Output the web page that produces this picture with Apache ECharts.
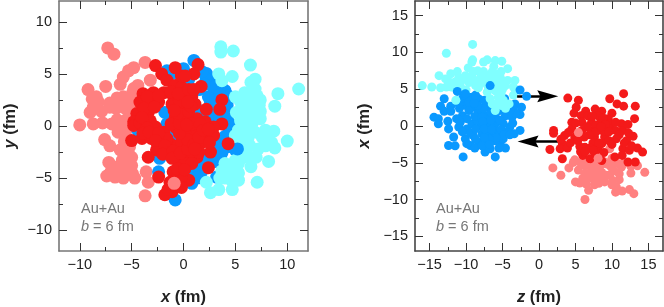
<!DOCTYPE html>
<html><head><meta charset="utf-8">
<style>html,body{margin:0;padding:0;background:#fff}#c{width:664px;height:307px}</style>
<script src="https://cdn.jsdelivr.net/npm/echarts@6/dist/echarts.min.js"></script>
</head><body><div id="c"></div>
<script>
var leftPink=[[-7.3,7.5],[-6.7,6.9],[-9.2,3.5],[-7.5,3.8],[-3.7,6.1],[-4.8,5.6],[-5.3,5.3],[-5.8,4.7],[-6.1,4.0],[-4.4,3.9],[-3.2,4.4],[-8.8,2.6],[-8.2,2.3],[-9.0,1.3],[-7.9,1.4],[-7.1,2.2],[-6.4,2.7],[-5.8,2.8],[-5.1,2.4],[-4.9,3.2],[-10.0,0.1],[-8.7,0.2],[-7.8,0.3],[-6.4,0.6],[-5.6,1.7],[-6.1,2.0],[-7.1,1.8],[-6.9,0.2],[-6.3,-0.6],[-5.6,-0.9],[-7.6,-1.3],[-7.1,-1.9],[-6.1,-2.3],[-5.3,-2.7],[-7.2,-3.5],[-5.0,-3.0],[-5.9,-3.3],[-5.5,-3.6],[-6.3,-3.9],[-5.6,-4.4],[-7.4,-4.8],[-6.6,-4.9],[-5.8,-5],[-4.7,-5],[-5.1,-4.3],[-6.6,-4.3],[-3.6,-4.4],[-3.4,-5.4],[-3.7,-6.7],[-5.2,1.3],[-6.5,1.7],[-5.5,2.1],[-4.8,3.6],[-4.6,1.9],[-8.7,1.8],[-8.4,2.8],[-5.5,-3],[-6,-3.7],[-5,-3.8],[-4.9,-4.6],[-6,-4.7],[-7,-4.4],[-5.2,-2],[-5.7,-1.5],[-5.5,0.6],[-5,0.9],[-6,0.1],[-5.5,-0.3]];
var leftPinkTop=[[-0.9,-5.5]];
var leftRed=[[-2.7,5.8],[-2.1,5.0],[-1.6,4.4],[-0.8,5.6],[-3.9,3.1],[-2.9,3.2],[-1.9,3.2],[-4.2,2.3],[-3.2,2.4],[-2.4,2.3],[-4.5,1.2],[-3.4,1.3],[-4.8,0.4],[-3.2,0.5],[-0.8,3.9],[-1,2.9],[-0.2,3.7],[-0.2,4.8],[-0.8,0.8],[-0.3,1.8],[-1.1,2.1],[-4.8,0.05],[-4.2,0.3],[-5,-1.4],[-4,-1.2],[-3.1,-1.2],[-2.3,-1.6],[-1.3,-1.7],[-2.7,-0.1],[-1.9,-0.6],[-0.8,-0.1],[-2.6,-2.3],[-3.4,-3],[-1.5,-2.3],[-0.5,-1.9],[-0.3,-3.6],[-1,-4.4],[-2.4,-4.9],[-1.3,-5.4],[-0.5,-4.7],[-1.8,-6.6],[-1.1,-6.3],[-0.3,-5.5],[0,-3],[-1.6,-1.2],[1.4,5.9],[1,5],[0.15,4.8],[1.7,3.8],[0,2.8],[0.8,2.8],[1.1,2.1],[0,1.8],[3.7,2.5],[3.5,1.6],[2.2,1.6],[1.3,0.7],[0.15,0.7],[3.7,0.2],[2.1,0.4],[2.9,-0.1],[1.1,-0.75],[2.1,-1.1],[2.9,-0.9],[1.6,-1.7],[2.6,-2.5],[4.3,-1.7],[-0.2,-1.6],[0.6,-3],[1.3,-3],[0.15,-3.6],[2.4,-4],[0.5,-5.2],[-0.2,-4.9],[0.8,-2.5],[0.15,-0.75],[0.8,0.2],[-3.5,2.8],[-2.4,2.9],[-3.8,1.7],[-2.8,1.8],[-4,0.8],[-3.5,-0.2],[-3.9,-0.7],[-3.3,-0.6],[-2.4,-0.7],[-2.7,-1.4],[-1.8,-1.9],[-2,-2.7],[-1,-2.4],[-1.1,-3.1],[-0.3,-2.6],[0.4,-2.2],[0.4,-1.3],[1,-1.8],[1.5,-1.1],[-0.4,-0.7],[-1.2,0.2],[-0.4,0.3],[0.3,0.1],[-0.5,1.2],[0.5,1.4],[0.7,1.9],[-0.4,2.5],[0.4,2.3],[-1.2,3.3],[-0.5,3.1],[0.5,3.5],[1,3.5],[-0.9,1.5],[1.5,-2.5],[0.8,-3.6],[-0.6,-4.1],[0.1,-4.2],[1.1,-2.2],[-0.2,-5.9],[-1.5,-6.1],[1.6,0.2],[1.9,-0.4],[2.4,-0.3],[2.5,-1.6]];
var leftBlue=[[1,6.3],[2.2,5.05],[2.6,4],[2.9,3.1],[4,3.4],[4.3,2.9],[4.5,1.3],[4.2,0.5],[2.6,2.2],[2.4,2.8],[4.3,-0.1],[5,-2.3],[3.3,-2.8],[3.2,-4.9],[1.3,-4.6],[0.8,-5.5],[-0.8,-7.1],[-2.4,-4.4],[-2.3,-3.1],[-0.8,-0.9],[-1.6,0.2],[-4.4,-0.4],[-1,5.3],[-1.6,5.3],[-1.8,1.3],[-1.3,0.5],[3,1],[3,0.2],[3,-1.5],[2,-3],[3.7,-3.5],[1.8,-3.8],[1.5,3.5],[2.3,0.9],[3.8,1.2],[3.3,-2],[-1,2],[0.5,1],[1.2,-1.6],[0,-0.4],[3.2,4.5],[2.2,4.5],[3,3.8],[3.5,3],[3.1,2.5],[3.8,2.1],[4.2,2],[4.3,1],[3.2,1.8],[4.6,0.1],[4.6,-0.9],[4,-1],[3.7,-1.5],[4.2,-2],[3.7,-2.6],[3.1,-3.4],[2.7,-3.4],[2.2,-3.7],[1.7,-4.5],[1.3,-5],[0.3,-4.4],[1.5,1.5],[2,-0.5],[0.5,4.5],[0,5.5],[1.8,5.2],[2,4],[-0.5,5],[-1.5,4.7]];
var leftBlueTop=[[5.2,-2.2]];
var leftCyan=[[3.6,7.6],[3.6,7.1],[4.8,7.2],[6.45,5.85],[3.4,5],[3.7,4.35],[4.7,4.75],[6.9,4.5],[6.5,4.2],[9.1,3.1],[11.1,3.55],[8.8,1.9],[6.9,3.55],[5.9,3.2],[5,2.8],[7.4,2.5],[5.5,2.3],[6.2,2.4],[5.1,1.3],[7.4,1.4],[6.6,1],[7.4,0.7],[5.5,0.5],[6.2,0.5],[10,-1.45],[8.8,-2.1],[8.7,-0.5],[7.9,-0.4],[7.6,-1.1],[8.2,-3.4],[7.1,-5.4],[6.5,-3.9],[5.3,-0.4],[6.6,0.2],[5.8,-1.1],[6.4,-1.9],[7.2,-2.2],[6.6,-3.1],[5.8,-3],[5.3,-3.6],[4.5,-3.9],[3.7,-4.3],[4.5,-4.7],[5.3,-5.2],[4.7,-6.1],[3.4,-6.1],[2.6,-6.4],[2.2,-5.4],[5.3,-4.5],[5.9,-0.4],[5.5,1.5],[6.5,1.5],[6,1.9],[5.8,0.9],[7,1],[6.2,-0.4],[6.9,-0.6],[6.2,-1.3],[5.3,-1.9],[6,-2.4],[7,-3],[5,-3.3],[4,-3.6],[4,-5],[4.7,-5.3],[3.5,-5],[7.3,2],[8,-1.3],[8.5,-1.6],[7.7,-0.7],[5.4,2.6],[6.5,2.9],[7.1,2.9],[5,-0.9],[5.5,-2.6],[7.9,-1.9]];
var rightCyan=[[-9.1,11.1],[-12.7,9.9],[-9.1,9.0],[-9.2,8.7],[-7.1,9],[-7.6,8.7],[-6,8.9],[-5.1,8.8],[-6.2,8.1],[-4.3,7.8],[-5.2,7.4],[-6.4,7.4],[-9.7,7.9],[-10.1,6.85],[-13.7,6.85],[-12.8,6.4],[-12.1,7.1],[-11.2,7.4],[-11,6.6],[-9.2,6.85],[-8,6.6],[-6.9,6.85],[-5.3,6.6],[-3.3,6.2],[-4.3,6.2],[-16,5.5],[-14.7,5.3],[-13.5,5.2],[-12.7,5.3],[-12,5.3],[-10.8,5.5],[-9.6,5.9],[-8.7,5.5],[-7.8,5.9],[-5.6,5.7],[-4.6,5.5],[-3.5,5.3],[-6,4.8],[-7.1,4.6],[-5.6,3.9],[-6.7,3.7],[-5.8,3],[-6,2.1],[-4.6,2.4],[-11.4,3.5],[-3.5,4.2],[-10,4.9],[-8.4,7.5],[-7.6,7.4],[-9,7.4],[-10.4,6.3],[-9.8,6.4],[-7.4,6.2],[-6.8,6],[-7,5.4],[-5,5],[-5.2,4.4],[-4.9,6],[-6.3,6.3],[-4.9,3.5],[-4.1,3],[-6.4,3],[-5.2,2.8],[-12.3,6],[-11.5,6],[-8.8,6.2],[-8.3,5.2],[-6.4,5.3],[-5.8,7]];
var rightBlue=[[-13,3.7],[-13.5,2.7],[-12.1,2.7],[-13,2],[-12.1,2],[-14.4,1.2],[-13.8,1],[-13.8,0.3],[-12.5,0.65],[-12.4,-0.4],[-11.7,-1.5],[-12.4,-2.65],[-11.5,-2.7],[-10.4,-4.2],[-6,-4.2],[-7.4,-3.55],[-6.7,-3.1],[-4.6,-3],[-5.3,-2.2],[-4.7,3.7],[-3.3,3],[-2.4,2.55],[-3.5,2.3],[-2.6,1.55],[-7,2.55],[-9.2,3.9],[-8.3,3.7],[-10.5,3.7],[-10.1,2.8],[-9,2.55],[-10.5,1.4],[-9.6,2.1],[-8.3,1.9],[-7.4,1.4],[-6,1.2],[-4.6,1.4],[-3.7,1.2],[-11,-0.15],[-9.9,-0.4],[-9.2,0.3],[-8,0.05],[-7.1,0.3],[-6,0.3],[-4.9,0.3],[-4,-0.15],[-2.6,-0.6],[-3.4,-1.05],[-10.1,-1.75],[-9,-1.3],[-7.8,-1.05],[-6.7,-1.3],[-5.6,-1.05],[-4.4,-0.85],[-9.4,-2.65],[-8.3,-2.2],[-7.1,-2.2],[-6,-2],[-4.9,-1.75],[-8.5,0.75],[-7.1,-0.8],[-6.2,-0.4],[-9.9,1],[-11.3,1],[-10.8,0.5],[-10.5,-0.8],[-9.4,-1],[-8.7,-0.4],[-8.8,1.3],[-7.8,1.2],[-7.7,0.6],[-7.5,-0.4],[-6.6,0.8],[-6.5,-0.5],[-5.4,0.8],[-5.2,-0.5],[-4.8,-1.2],[-5.9,-1.6],[-6.8,-1.8],[-7.5,-1.6],[-8.7,-1.8],[-8.8,-3],[-9.9,-2.4],[-7.8,-2.7],[-6.8,-2.5],[-5.5,-3],[-4,-1.2],[-3.6,0.4],[-3.2,1.7],[-4,2.1],[-5.4,2.1],[-6.6,1.9],[-7.6,2.4],[-8.4,2.8],[-9.6,3.2],[-8.9,3.1],[-9.8,4],[-8.7,4.2],[-7.5,3.5],[-6.6,3],[-11,0.8],[-10.9,2.4],[-11,3],[-10.3,4.2]];
var rightBlueTop=[[-11.2,4.7],[-10.1,4.4],[-2.6,4.9],[-1.7,4.05],[-6.7,5.5]];
var rightRed=[[3.95,3.8],[5.4,3.5],[11.6,4.4],[9.7,3.7],[10.7,3],[11.6,2.7],[13.2,2.7],[13.1,1],[5.1,2.55],[4.8,1.75],[6.4,2],[5.8,1.4],[7.7,2.3],[8.6,2],[10,1.75],[8.1,1.4],[9.5,1],[4.5,0.5],[5.9,0.5],[7.2,0.5],[8.3,0.3],[9.7,0.3],[11.3,0.3],[2,-0.6],[2,-1],[4.5,-0.4],[5.9,-0.6],[7.4,-0.6],[8.6,-0.6],[9.9,-0.4],[11.5,-0.6],[3.5,-1.3],[4.9,-1.5],[7.6,-1.5],[9,-1.5],[10.6,-1.75],[12.9,-1.4],[12,-2],[3.2,-2.4],[1.5,-3.2],[2.9,-3.1],[3.9,-3],[5.6,-2.8],[6.3,-2.9],[8.1,-3.1],[8.6,-2.4],[11.5,-3.1],[12.4,-3.3],[13.5,-3],[14.2,-3.55],[3.2,-4.45],[6,-4],[7,-4.45],[8.6,-4.7],[10.4,-4.2],[12.2,-4.9],[13.2,-4.9],[7.7,-3.8],[6.7,1.4],[7.3,1.3],[8.8,1.1],[6.6,-0.1],[7.8,0.1],[9.1,0.2],[10.5,0.5],[10.5,-0.6],[11,-1.2],[7.8,-0.8],[8.9,-0.7],[6.9,-1.2],[6.2,-1.5],[5.3,-2],[7.4,-2.3],[8.2,-2.3],[9.6,-2],[10,-2.5],[4.3,-2.3],[5.7,-3.5],[7,-3],[7.4,-3.3],[8.9,-3.6],[11.7,-2.3],[12.7,-2.7],[11.4,-4],[9.6,-0.8],[3,-1.8],[4,-0.9],[5,0.4],[8.5,-0.1],[6.3,-3.5],[12.3,-1],[12.2,0.2]];
var rightPink=[[4.9,-4.6],[4.7,-4.95],[1.9,-5.7],[4.1,-5.7],[3,-6.7],[14.5,-6.3],[13.5,-5.4],[12.6,-6.4],[6.3,-10],[6.8,-8.75],[5.6,-7.75],[6.3,-6.5],[7.6,-7.4],[7.2,-5.6],[8.6,-6.3],[9.9,-5.6],[11.3,-5.6],[9.7,-3.1],[7,-3.3],[10.1,-7.4],[10.5,-9],[11.4,-8.85],[12.4,-8.65],[13,-9.2],[5.4,-6],[6,-7.1],[11,-6.5],[10.6,-8.3],[9,-7.6],[9.7,-6.7],[7.6,-6.3],[6.3,-5.4],[9,-4.9],[8.1,-5.7],[10,-4.4],[5.7,-5],[6.9,-6.4],[7.7,-5.4],[8.6,-5.2],[9.4,-5.2],[10,-4.9],[10.8,-5.1],[11.7,-5],[12.6,-5.5],[7.6,-8],[8.3,-6.9],[7,-7],[6.5,-7.9],[5,-7.6],[6.3,-4.8],[10.3,-6.1],[10,-8],[8.2,-7.8],[11,-7.3],[9.2,-6.7],[7.4,-4.7],[8,-6.7]];
var rightPinkTop=[[5.4,-0.9],[8.1,-4.4]];
var arrowRight=[[-3.0,4.05],[1.2,4.05]];
var arrowLeft=[[2.6,-2.1],[-1.5,-2.1]];
var leftMajor=[-10,-5,0,5,10], leftMinor=[-7.5,-2.5,2.5,7.5];
var rightMajor=[-15,-10,-5,0,5,10,15], rightMinor=[-12.5,-7.5,-2.5,2.5,7.5,12.5];
var RED='#f41a1a',PINK='#ff8080',BLUE='#0a99ff',CYAN='#80ffff';
var FF='"Liberation Sans",Arial,sans-serif';
function fmt(v){return String(v).replace('-','\u2212');}
var xAxes=[],yAxes=[];
function addAxes(list,g,lim,major,minor,mk,nameVar,lineCol,gap){
  var pos=mk==='x'?['bottom','top']:['left','right'];
  [[pos[0],major,8,true],[pos[1],major,8,false],[pos[0],minor,4,false],[pos[1],minor,4,false]].forEach(function(a,i){
    var o={type:'value',gridIndex:g,position:a[0],min:-lim,max:lim,silent:true,splitLine:{show:false},
      axisLine:{show:true,onZero:false,lineStyle:{color:lineCol,width:i<2?1.6:0}},
      axisTick:{show:true,inside:true,length:a[2],customValues:a[1],lineStyle:{color:'#333',width:1}},
      axisLabel:{show:a[3],customValues:a[1],formatter:fmt,color:'#222',fontSize:14.5,fontFamily:FF,margin:mk==='x'?6:7,showMinLabel:true,showMaxLabel:true}};
    if(i===0){o.name='{v|'+nameVar+'}{t| (fm)}';o.nameLocation='middle';o.nameGap=gap;
      if(mk==='y')o.nameRotate=90;
      o.nameTextStyle={rich:{v:{fontSize:16.5,fontWeight:'bold',fontStyle:'italic',fontFamily:FF,color:'#222'},t:{fontSize:16.5,fontWeight:'bold',fontFamily:FF,color:'#222'}}};}
    list.push(o);
  });
}
addAxes(xAxes,0,12,leftMajor,leftMinor,'x','x','#777',38);
addAxes(yAxes,0,12,leftMajor,leftMinor,'y','y','#777',40);
addAxes(xAxes,1,17,rightMajor,rightMinor,'x','z','#444',38);
addAxes(yAxes,1,17,rightMajor,rightMinor,'y','x','#444',42);
function sc(name,g,data,color,size,z){return {name:name,type:'scatter',xAxisIndex:g*4,yAxisIndex:g*4,data:data,symbol:'circle',symbolSize:size,itemStyle:{color:color,opacity:1},z:z,silent:true,clip:true,animation:false};}
var head='path://M0,0 L10,20 L0,17 L-10,20 Z';
var LS=13,RS=9;
var series=[
 sc('pink',0,leftPink,PINK,LS,2),sc('blue',0,leftBlue,BLUE,LS,3),sc('cyan',0,leftCyan,CYAN,LS,4),sc('blueTop',0,leftBlueTop,BLUE,LS,5),sc('red',0,leftRed,RED,LS,6),sc('pinkTop',0,leftPinkTop,PINK,LS,7),
 sc('pink',1,rightPink,PINK,RS,2),sc('blue',1,rightBlue,BLUE,RS,3),sc('cyan',1,rightCyan,CYAN,RS,4),sc('blueTop',1,rightBlueTop,BLUE,RS,5),sc('red',1,rightRed,RED,RS,6),sc('pinkTop',1,rightPinkTop,PINK,RS,7)
];
var last=series[series.length-1];
last.markLine={silent:true,animation:false,symbol:['none',head],symbolSize:[12,21],symbolOffset:[0,0],label:{show:false},
  lineStyle:{color:'#000',width:2.5,type:'solid'},
  data:[[{coord:arrowRight[0]},{coord:arrowRight[1]}],[{coord:arrowLeft[0]},{coord:arrowLeft[1]}]]};
function note(l,t){return {left:l,top:t,text:'Au+Au\n{i|b} = 6 fm',textStyle:{color:'#777',fontSize:14.5,fontWeight:'normal',fontFamily:FF,lineHeight:18,rich:{i:{fontStyle:'italic',color:'#777',fontSize:14.5,fontFamily:FF,lineHeight:18}}},padding:0};}
var chart=echarts.init(document.getElementById('c'),null,{renderer:'canvas'});
chart.setOption({animation:false,backgroundColor:'#fff',
 title:[note(81,200),note(436,200)],
 grid:[{left:59,top:1,width:249,height:250,outerBoundsMode:'none'},{left:415,top:1,width:248,height:250,outerBoundsMode:'none'}],
 xAxis:xAxes,yAxis:yAxes,series:series});
</script></body></html>
